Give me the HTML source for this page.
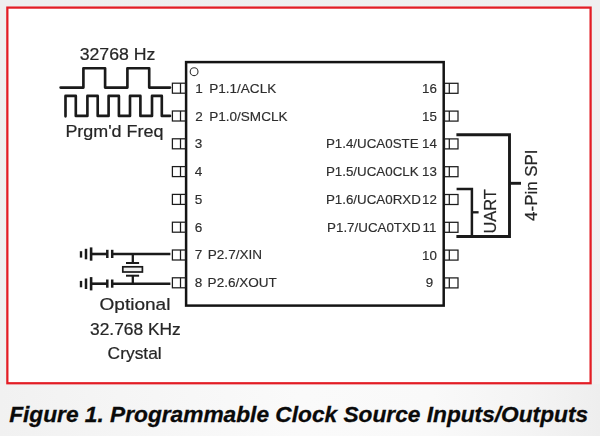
<!DOCTYPE html>
<html>
<head>
<meta charset="utf-8">
<style>
html,body{margin:0;padding:0;}
body{width:600px;height:436px;overflow:hidden;background:#efefef;font-family:"Liberation Sans",sans-serif;}
svg{display:block;}
.lbl{font-family:"Liberation Sans",sans-serif;font-size:13.35px;fill:#2d2d2d;stroke:#2d2d2d;stroke-width:0.16px;}
.lbl2{font-size:13.55px;}
.cal{font-family:"Liberation Sans",sans-serif;font-size:16.5px;fill:#262626;stroke:#262626;stroke-width:0.22px;}
.cap{font-family:"Liberation Sans",sans-serif;font-weight:bold;font-style:italic;font-size:22.4px;fill:#0a0a0a;stroke:#0a0a0a;stroke-width:0.3px;}
</style>
</head>
<body>
<svg width="600" height="436" viewBox="0 0 600 436">
  <defs>
    <linearGradient id="bg" x1="0" y1="0" x2="1" y2="1">
      <stop offset="0" stop-color="#eeefef"/>
      <stop offset="1" stop-color="#f1f1f1"/>
    </linearGradient>
    <linearGradient id="bg2" x1="0" y1="0" x2="1" y2="0">
      <stop offset="0" stop-color="#f1f1f1"/>
      <stop offset="0.2" stop-color="#f5f5f5"/>
      <stop offset="0.5" stop-color="#fafafa"/>
      <stop offset="0.72" stop-color="#f9f9f9"/>
      <stop offset="0.88" stop-color="#f4f4f4"/>
      <stop offset="1" stop-color="#eeeeee"/>
    </linearGradient>
  </defs>
  <rect x="0" y="0" width="600" height="436" fill="url(#bg)"/>
  <rect x="0" y="384" width="600" height="52" fill="url(#bg2)"/>
  <!-- red frame -->
  <rect x="7.35" y="7.6" width="583.25" height="375.65" fill="#ffffff" stroke="#e31d25" stroke-width="2.25"/>

  <g style="filter:grayscale(1)">
  <!-- chip body -->
  <rect x="186.1" y="62.1" width="257.6" height="243.5" fill="none" stroke="#141414" stroke-width="2.5"/>
  <circle cx="194.1" cy="71.7" r="3.9" fill="none" stroke="#333" stroke-width="1.1"/>

  <!-- left pins -->
  <g fill="#fff" stroke="#1c1c1c" stroke-width="1.25">
    <g id="lp"><rect x="172.4" y="83.2" width="13" height="10"/><line x1="180.5" y1="83.2" x2="180.5" y2="93.2"/></g>
    <use href="#lp" y="27.8"/><use href="#lp" y="55.6"/><use href="#lp" y="83.4"/>
    <use href="#lp" y="111.2"/><use href="#lp" y="139"/><use href="#lp" y="166.8"/><use href="#lp" y="194.6"/>
  </g>
  <!-- right pins -->
  <g fill="#fff" stroke="#1c1c1c" stroke-width="1.25">
    <g id="rp"><rect x="444.5" y="83.3" width="13.5" height="10"/><line x1="449.3" y1="83.3" x2="449.3" y2="93.3"/></g>
    <use href="#rp" y="27.8"/><use href="#rp" y="55.6"/><use href="#rp" y="83.4"/>
    <use href="#rp" y="111.2"/><use href="#rp" y="139"/><use href="#rp" y="166.8"/><use href="#rp" y="194.6"/>
  </g>

  <!-- left labels -->
  <g class="lbl lbl2">
    <text x="195.2" y="92.7">1</text><text x="209.2" y="92.7">P1.1/ACLK</text>
    <text x="195.2" y="120.5">2</text><text x="209.2" y="120.5">P1.0/SMCLK</text>
    <text x="194.8" y="148.3">3</text>
    <text x="194.8" y="176.1">4</text>
    <text x="194.8" y="203.9">5</text>
    <text x="194.8" y="231.7">6</text>
    <text x="194.8" y="259.4">7</text><text x="207.8" y="259.4">P2.7/XIN</text>
    <text x="194.8" y="287.3">8</text><text x="207.6" y="287.3">P2.6/XOUT</text>
  </g>
  <!-- right labels -->
  <g class="lbl" text-anchor="middle">
    <text x="429.5" y="92.7">16</text>
    <text x="429.5" y="120.5">15</text>
    <text x="429.5" y="148.3">14</text>
    <text x="429.5" y="176.1">13</text>
    <text x="429.5" y="203.9">12</text>
    <text x="429.5" y="231.7">11</text>
    <text x="429.5" y="259.5">10</text>
    <text x="429.5" y="287.3">9</text>
  </g>
  <g class="lbl">
    <text x="325.9" y="148.3">P1.4/UCA0STE</text>
    <text x="325.9" y="176.1">P1.5/UCA0CLK</text>
    <text x="325.9" y="203.9">P1.6/UCA0RXD</text>
    <text x="327.1" y="231.7">P1.7/UCA0TXD</text>
  </g>

  <!-- waveforms -->
  <g fill="none" stroke="#1a1a1a" stroke-width="2.65" stroke-linejoin="round" stroke-linecap="round">
    <path d="M60.6 87.6 H83.4 V68.2 H105.1 V87.6 H127.4 V68.2 H149.2 V87.6 H170"/>
    <path d="M65.5 116.3 V95.9 H75.8 V115.9 H87.4 V95.9 H97.7 V115.9 H108.6 V95.9 H118.9 V115.9 H130 V95.9 H140.4 V115.9 H152 V95.9 H161.8 V115.9 H170"/>
  </g>
  <text class="cal" style="font-size:17.2px" x="79.7" y="59.8" textLength="75.7" lengthAdjust="spacingAndGlyphs">32768 Hz</text>
  <text class="cal" style="font-size:16.4px" x="65.4" y="137.1" textLength="98" lengthAdjust="spacingAndGlyphs">Prgm'd Freq</text>

  <!-- crystal circuit -->
  <g fill="none" stroke="#1a1a1a">
    <g id="xl">
      <line x1="81" y1="251.2" x2="81" y2="257.6" stroke-width="2.4"/>
      <line x1="86" y1="248.8" x2="86" y2="259.3" stroke-width="2.5"/>
      <line x1="91.1" y1="247.4" x2="91.1" y2="260.7" stroke-width="2.6"/>
      <line x1="91.1" y1="254" x2="107.3" y2="254" stroke-width="2.6"/>
      <line x1="107.3" y1="249.8" x2="107.3" y2="258" stroke-width="2.5"/>
      <line x1="112.2" y1="249.8" x2="112.2" y2="258" stroke-width="2.5"/>
      <line x1="112.2" y1="254" x2="170.4" y2="254" stroke-width="2.6"/>
    </g>
    <use href="#xl" y="29.7"/>
    <line x1="132.8" y1="254" x2="132.8" y2="263" stroke-width="2.3"/>
    <line x1="126" y1="263" x2="139.1" y2="263" stroke-width="2"/>
    <rect x="122.8" y="266.8" width="19.6" height="5.2" fill="#efefef" stroke-width="1.7"/>
    <line x1="126" y1="275.7" x2="139.1" y2="275.7" stroke-width="2"/>
    <line x1="132.8" y1="275.7" x2="132.8" y2="283.7" stroke-width="2.3"/>
  </g>
  <text class="cal" style="font-size:16.3px" x="99.5" y="309.8" textLength="70.9" lengthAdjust="spacingAndGlyphs">Optional</text>
  <text class="cal" style="font-size:16.6px" x="90" y="335" textLength="90.8" lengthAdjust="spacingAndGlyphs">32.768 KHz</text>
  <text class="cal" style="font-size:16.3px" x="107.6" y="358.8" textLength="54.1" lengthAdjust="spacingAndGlyphs">Crystal</text>

  <!-- brackets -->
  <g fill="none" stroke="#1a1a1a" stroke-width="2.9">
    <path d="M456.4 134.8 H509.5 V236.5 H456.4"/>
    <line x1="509.5" y1="183.3" x2="521" y2="183.3"/>
    <path d="M456.6 188.9 H471.9 V236.5" stroke-width="2.5"/>
    <line x1="471.9" y1="212.3" x2="478.6" y2="212.3" stroke-width="2.3"/>
  </g>
  <text class="cal" transform="translate(495.9 233.5) rotate(-90)" textLength="44.3" lengthAdjust="spacingAndGlyphs">UART</text>
  <text class="cal" transform="translate(536.8 220.9) rotate(-90)" textLength="71.4" lengthAdjust="spacingAndGlyphs">4-Pin SPI</text>

  </g>
  <!-- caption -->
  <text class="cap" x="9.2" y="421.7" textLength="578.9" lengthAdjust="spacingAndGlyphs">Figure 1. Programmable Clock Source Inputs/Outputs</text>
</svg>
</body>
</html>
